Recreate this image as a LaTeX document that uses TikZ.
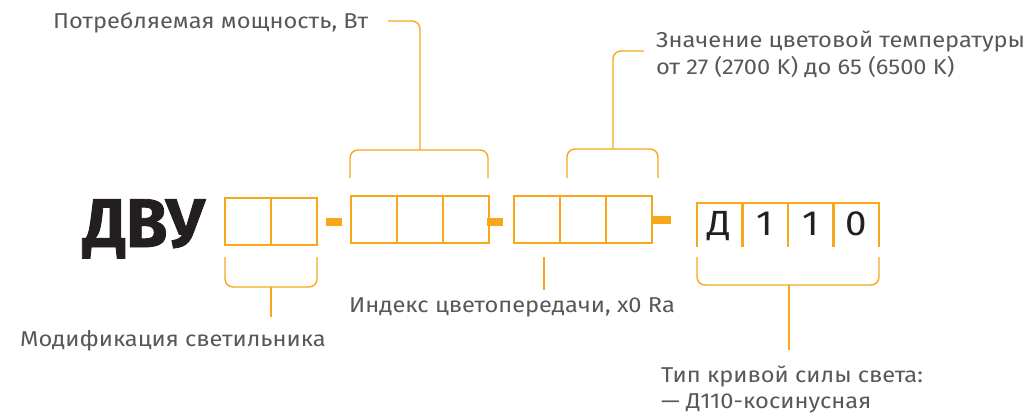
\documentclass[tikz,border=0pt]{standalone}
\usepackage{fontspec}
\setmainfont{Fira Sans}
\newfontfamily\labelfont{Fira Sans}[FakeStretch=1.1]
\newfontfamily\seriesfont{Fira Sans}[FakeStretch=0.98, BoldFeatures={FakeBold=1.2}]
\usetikzlibrary{positioning}

\definecolor{dvuorange}{HTML}{F8A71C}
\definecolor{dvugrey}{HTML}{585858}
\definecolor{dvublack}{HTML}{231F20}

\tikzset{
  cell/.style={draw=dvuorange, line width=1.5pt, minimum width=46pt, minimum height=47pt,
    inner sep=0pt, outer sep=0pt},
  curvecell/.style={minimum width=45.5pt, minimum height=44pt, inner sep=0pt, outer sep=0pt,
    text height=24pt, text depth=4pt, text=dvublack, font=\labelfont\fontsize{35}{35}\selectfont},
  lbl/.style={anchor=base west, inner sep=0pt, text=dvugrey,
    font=\labelfont\fontsize{21.5}{26}\selectfont},
  lead/.style={draw=dvuorange, line width=1.4pt, rounded corners=8pt},
}

\begin{document}
\begin{tikzpicture}[x=1pt, y=-1pt]
    \useasboundingbox (0,0) rectangle (1036,418);

    % Series name
    \node[anchor=base west, inner sep=0pt, text=dvublack,
      font=\seriesfont\bfseries\fontsize{69}{69}\selectfont] (series) at (83,247) {ДВУ};

    % Modification: two cells
    \node[cell] (mod1) at (248,221.5) {};
    \node[cell, right=0pt of mod1] (mod2) {};
    \fill[dvuorange] (326,218) rectangle (342,226); % dash

    % Power: three cells
    \node[cell] (pow1) at (374,219.5) {};
    \node[cell, right=0pt of pow1] (pow2) {};
    \node[cell, right=0pt of pow2] (pow3) {};
    \fill[dvuorange] (487,218) rectangle (503,226); % dash

    % Colour rendering and colour temperature: three cells
    \node[cell] (cct1) at (537,219.5) {};
    \node[cell, right=0pt of cct1] (cct2) {};
    \node[cell, right=0pt of cct2] (cct3) {};
    \fill[dvuorange] (652,216) rectangle (671,224); % dash

    % Light distribution curve: open cells
    \node[curvecell] (ksc1) at (719.75,225) {Д};
    \node[curvecell, right=0pt of ksc1] (ksc2) {1};
    \node[curvecell, right=0pt of ksc2] (ksc3) {1};
    \node[curvecell, right=0pt of ksc3] (ksc4) {0};
    \draw[dvuorange, line width=2.6pt] (ksc1.south west) -- (ksc1.north west)
      -- (ksc4.north east) -- (ksc4.south east);
    \foreach \i in {1,2,3}
      \draw[dvuorange, line width=2.6pt] (ksc\i.north east) -- (ksc\i.south east);

    % Labels
    \node[lbl] (powlbl) at (53,28) {Потребляемая мощность, Вт};
    \node[lbl] (cctlbl) at (656,47) {Значение цветовой температуры};
    \node[lbl] (cctlblb) at (656,74) {от 27 (2700 K) до 65 (6500 K)};
    \node[lbl] (crilbl) at (349,312) {Индекс цветопередачи, x0 Ra};
    \node[lbl] (modlbl) at (20,346) {Модификация светильника};
    \node[lbl] (ksslbl) at (661,382) {Тип кривой силы света:};
    \node[lbl] (ksslblb) at (661,408) {— Д110-косинусная};

    % Leader ends
    \coordinate (powtip) at (388,21);
    \coordinate (powbr) at (420,150);
    \coordinate (ccttip) at (644,51);
    \coordinate (cctbr) at (613,149);
    \coordinate (critop) at (544,257);
    \coordinate (cribot) at (544,290);
    \coordinate (modbr) at (271,287);
    \coordinate (modend) at (271,317);
    \coordinate (kssbr) at (789,285);
    \coordinate (kssend) at (789,350);

    % Brackets
    \draw[lead] (350,178) -- (350,150) -- (488,150) -- (488,178);
    \draw[lead] (567,178) -- (567,149) -- (658,149) -- (658,178);
    \draw[lead] (225,257) -- (225,287) -- (317,287) -- (317,257);
    \draw[lead] (697,257) -- (697,285) -- (879,285) -- (879,257);

    % Leaders
    \draw[lead] (powtip) -| (powbr);
    \draw[lead] (ccttip) -| (cctbr);
    \draw[lead] (critop) -- (cribot);
    \draw[lead] (modbr) -- (modend);
    \draw[lead] (kssbr) -- (kssend);

\end{tikzpicture}
\end{document}
